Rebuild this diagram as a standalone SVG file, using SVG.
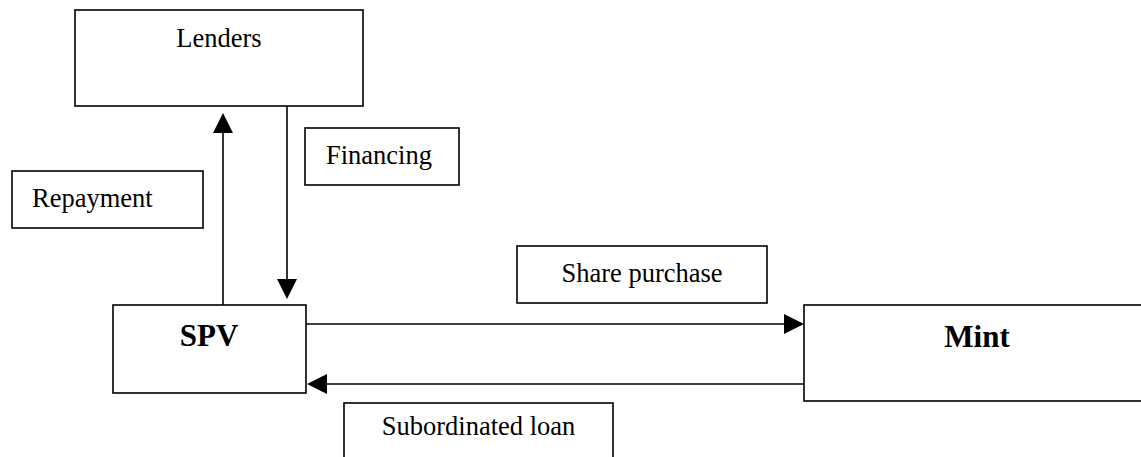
<svg xmlns="http://www.w3.org/2000/svg" width="1141" height="457" viewBox="0 0 1141 457">
<style>
.box{fill:#fff;stroke:#000;stroke-width:1.6}
.lbl{font-family:"Liberation Serif","Times New Roman",serif;font-size:26.5px;fill:#000}
.big{font-family:"Liberation Serif","Times New Roman",serif;font-size:31px;font-weight:bold;fill:#000}
.con{stroke:#000;stroke-width:1.6;fill:none}
.head{fill:#000}
</style>
<rect x="0" y="0" width="1141" height="457" fill="#fff"/>
<g id="lenders">
<rect class="box" x="75" y="10" width="288" height="96"/>
<text class="lbl" x="219" y="47" text-anchor="middle">Lenders</text>
</g>
<g id="repayment">
<rect class="box" x="12" y="171" width="191" height="57"/>
<text class="lbl" x="32" y="207">Repayment</text>
</g>
<g id="financing">
<rect class="box" x="305" y="128" width="154" height="57"/>
<text class="lbl" x="326" y="164">Financing</text>
</g>
<g id="spv">
<rect class="box" x="113" y="305" width="193" height="88"/>
<text class="big" x="209" y="346" text-anchor="middle">SPV</text>
</g>
<g id="share-purchase">
<rect class="box" x="517" y="246" width="250" height="57"/>
<text class="lbl" x="642" y="282" text-anchor="middle">Share purchase</text>
</g>
<g id="mint">
<rect class="box" x="804" y="305" width="345" height="96"/>
<text class="big" x="977" y="347" text-anchor="middle">Mint</text>
</g>
<g id="subordinated-loan">
<rect class="box" x="344" y="403" width="269" height="60"/>
<text class="lbl" x="478.5" y="435" text-anchor="middle">Subordinated loan</text>
</g>
<g id="connectors">
<line class="con" x1="223" y1="305" x2="223" y2="130"/>
<polygon class="head" points="223,113 213,133 233,133"/>
<line class="con" x1="287" y1="106" x2="287" y2="282"/>
<polygon class="head" points="287,299 277,279 297,279"/>
<line class="con" x1="306" y1="324" x2="787" y2="324"/>
<polygon class="head" points="804,324 784,314 784,334"/>
<line class="con" x1="804" y1="384" x2="323" y2="384"/>
<polygon class="head" points="307,384 327,374 327,394"/>
</g>
</svg>
